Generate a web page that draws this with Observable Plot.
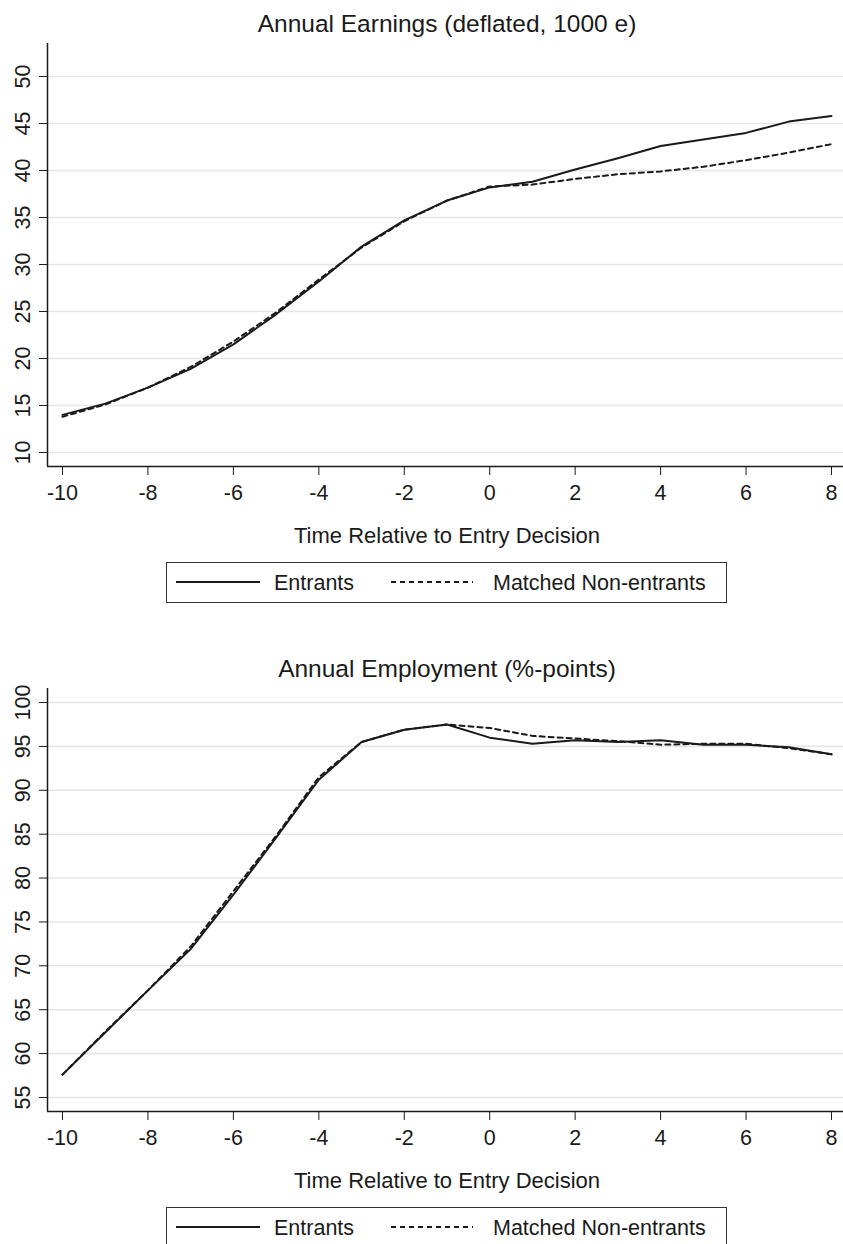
<!DOCTYPE html>
<html>
<head>
<meta charset="utf-8">
<script src="https://cdn.jsdelivr.net/npm/d3@7"></script>
<script src="https://cdn.jsdelivr.net/npm/@observablehq/plot@0.6"></script>
<style>
  html, body { margin: 0; padding: 0; background: #fff; }
  body { width: 843px; height: 1244px; overflow: hidden; font-family: "Liberation Sans", Arial, Helvetica, sans-serif; color: #1a1a1a; }
  .panel { position: absolute; left: 0; width: 843px; height: 645px; }
  .txt { position: absolute; white-space: nowrap; }
  .legend { position: absolute; box-sizing: border-box; border: 1.5px solid #333; background: #fff; }
  svg.plot { position: absolute; left: 0; }
</style>
</head>
<body>
<div id="root"></div>
<script>
// ---- data ----
const years = [-10, -9, -8, -7, -6, -5, -4, -3, -2, -1, 0, 1, 2, 3, 4, 5, 6, 7, 8];
const earnEntrants = [14.0, 15.2, 16.9, 18.9, 21.5, 24.7, 28.2, 31.9, 34.7, 36.8, 38.2, 38.8, 40.1, 41.3, 42.6, 43.3, 44.0, 45.2, 45.8];
const earnMatched  = [13.8, 15.1, 16.9, 19.1, 21.8, 24.9, 28.4, 31.8, 34.6, 36.8, 38.3, 38.5, 39.1, 39.6, 39.9, 40.4, 41.1, 41.9, 42.8];
const emplEntrants = [57.6, 62.4, 67.2, 71.9, 78.1, 84.6, 91.2, 95.5, 96.9, 97.5, 96.0, 95.3, 95.7, 95.5, 95.7, 95.2, 95.2, 94.9, 94.1];
const emplMatched  = [57.6, 62.5, 67.2, 72.2, 78.5, 84.8, 91.5, 95.5, 96.9, 97.5, 97.1, 96.2, 95.9, 95.6, 95.2, 95.3, 95.3, 94.8, 94.1];
const xTicks = [-10, -8, -6, -4, -2, 0, 2, 4, 6, 8];
const earnTicks = [10, 15, 20, 25, 30, 35, 40, 45, 50];
const emplTicks = [55, 60, 65, 70, 75, 80, 85, 90, 95, 100];
const seriesNames = ["Entrants", "Matched Non-entrants"];
const titles = ["Annual Earnings (deflated, 1000 e)", "Annual Employment (%-points)"];
const xLabel = "Time Relative to Entry Decision";

const FONT = '"Liberation Sans", Arial, Helvetica, sans-serif';
const INK = "#1a1a1a";
const xDomain = [-10.351, 8.281];

function addText(parent, text, x, baseline, size, anchor) {
  const d = document.createElement("div");
  d.className = "txt";
  d.textContent = text;
  d.style.fontSize = size + "px";
  d.style.lineHeight = size + "px";
  d.style.left = x + "px";
  d.style.top = (baseline - 0.8465 * size) + "px";
  if (anchor === "middle") d.style.transform = "translateX(-50%)";
  parent.appendChild(d);
  return d;
}

function makePanel(top, title, entrants, matched, yTicks, yDomain) {
  const panel = document.createElement("div");
  panel.className = "panel";
  panel.style.top = top + "px";
  document.getElementById("root").appendChild(panel);

  addText(panel, title, 447, 33, 24.5, "middle");

  const rows = [];
  years.forEach((t, i) => {
    rows.push({t, v: entrants[i], s: seriesNames[0]});
    rows.push({t, v: matched[i], s: seriesNames[1]});
  });

  const svgTop = 40;
  const plot = Plot.plot({
    width: 843,
    height: 470,
    marginLeft: 47,
    marginRight: 0,
    marginTop: 3,
    marginBottom: 44,
    style: {fontFamily: FONT, fontSize: "21.5px", color: INK, background: "transparent", overflow: "visible"},
    x: {domain: xDomain, label: null},
    y: {domain: yDomain, label: null},
    marks: [
      Plot.ruleY(yTicks, {stroke: "#e6e6e6", strokeWidth: 1.6}),
      Plot.line(rows.filter(d => d.s === seriesNames[1]), {x: "t", y: "v", stroke: INK, strokeWidth: 2, strokeDasharray: "5,4"}),
      Plot.line(rows.filter(d => d.s === seriesNames[0]), {x: "t", y: "v", stroke: INK, strokeWidth: 2}),
      Plot.ruleX([xDomain[0]], {stroke: INK, strokeWidth: 1.5}),
      Plot.ruleY([yDomain[0]], {stroke: INK, strokeWidth: 1.5}),
      Plot.axisX(xTicks, {tickSize: 9, tickPadding: 9, tickFormat: d => String(d), stroke: INK, fill: INK, label: null}),
      Plot.axisY(yTicks, {tickSize: 8, tickFormat: () => "", stroke: INK, label: null}),
      Plot.text(yTicks, {x: () => xDomain[0], y: d => d, text: d => String(d), rotate: -90, dx: -24, textAnchor: "middle", lineAnchor: "middle", fill: INK, fontSize: 21.5})
    ]
  });
  plot.classList.add("plot");
  plot.style.top = svgTop + "px";
  panel.appendChild(plot);

  addText(panel, xLabel, 447, 544, 22, "middle");

  // legend
  const lg = document.createElement("div");
  lg.className = "legend";
  lg.style.left = "166px";
  lg.style.top = "562px";
  lg.style.width = "561px";
  lg.style.height = "41px";
  panel.appendChild(lg);

  const ns = "http://www.w3.org/2000/svg";
  const ls = document.createElementNS(ns, "svg");
  ls.setAttribute("width", "843");
  ls.setAttribute("height", "60");
  ls.style.position = "absolute";
  ls.style.left = "0px";
  ls.style.top = (562 - 10) + "px";
  const mk = (x1, x2, dash) => {
    const l = document.createElementNS(ns, "line");
    l.setAttribute("x1", x1); l.setAttribute("x2", x2);
    l.setAttribute("y1", 30); l.setAttribute("y2", 30);
    l.setAttribute("stroke", INK); l.setAttribute("stroke-width", 2);
    if (dash) l.setAttribute("stroke-dasharray", dash);
    ls.appendChild(l);
  };
  mk(176, 260, null);
  mk(391, 473, "5,4");
  panel.appendChild(ls);
  addText(panel, seriesNames[0], 274, 591, 21.5);
  addText(panel, seriesNames[1], 493, 591, 21.5);
}

makePanel(0, titles[0], earnEntrants, earnMatched, earnTicks, [8.51, 53.51]);
makePanel(645, titles[1], emplEntrants, emplMatched, emplTicks, [53.4, 101.6]);
</script>
</body>
</html>
